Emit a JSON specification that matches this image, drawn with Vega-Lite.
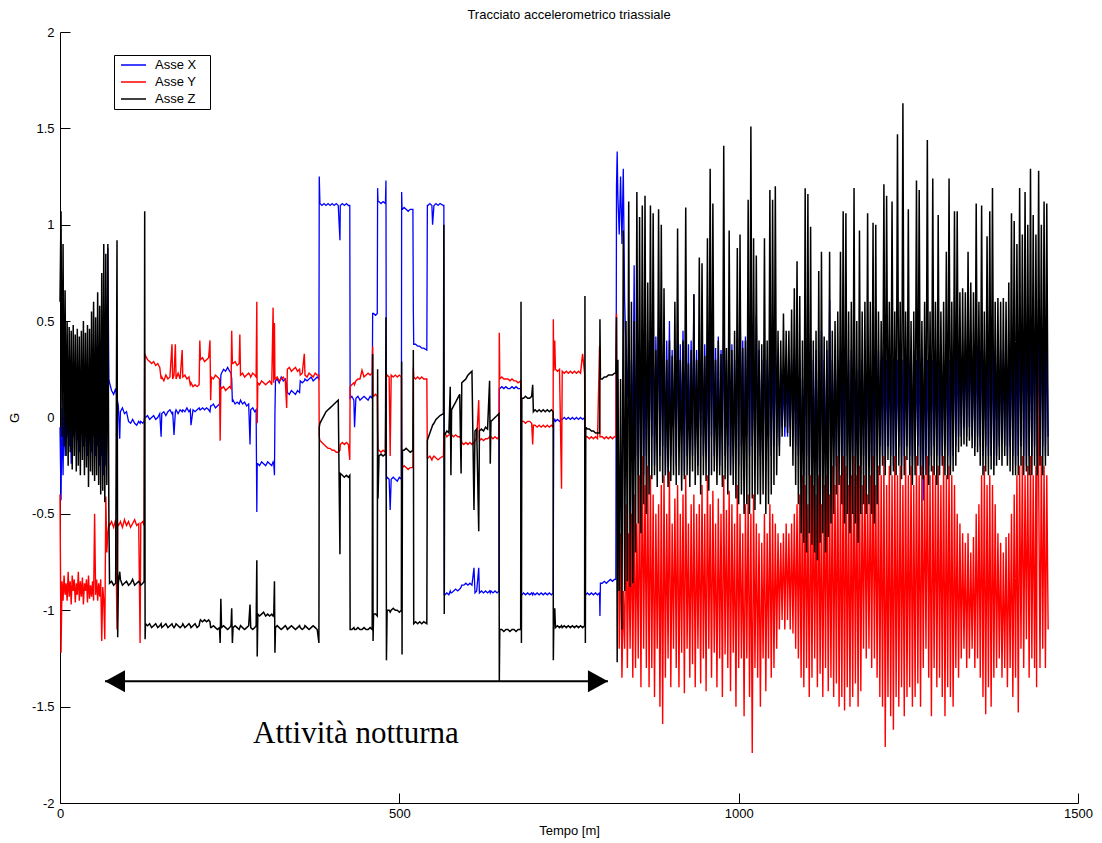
{
  "$schema": "https://vega.github.io/schema/vega-lite/v6.json",
  "width": 1018,
  "height": 771,
  "autosize": {"type": "none"},
  "padding": {"left": 60, "top": 32, "right": 24, "bottom": 40},
  "background": "white",
  "title": {"text": "Tracciato accelerometrico triassiale", "font": "Liberation Sans", "fontSize": 13, "fontWeight": "normal", "color": "black", "anchor": "middle", "offset": 4},
  "config": {"view": {"stroke": null}},
  "layer": [
    {
      "data": {"values": [
        {"t":0,"X":-0.05,"Y":-0.4,"Z":0.6},{"t":1.5,"X":-0.43,"Y":-1.22,"Z":1.07},{"t":3,"X":0.05,"Y":-0.85,"Z":-0.1},{"t":4.5,"X":-0.3,"Y":-0.95,"Z":0.9},
        {"t":6,"X":0.1,"Y":-0.82,"Z":-0.15},{"t":7.5,"X":-0.2,"Y":-0.92,"Z":0.66},{"t":9,"X":0.08,"Y":-0.86,"Z":-0.2},{"t":10.5,"X":-0.1,"Y":-0.95,"Z":0.5},
        {"t":12,"X":0.12,"Y":-0.8,"Z":-0.25},{"t":13.5,"X":-0.15,"Y":-0.93,"Z":0.47},{"t":15,"X":0.05,"Y":-0.85,"Z":-0.18},{"t":16.5,"X":-0.24,"Y":-0.97,"Z":0.45},
        {"t":18,"X":0.1,"Y":-0.82,"Z":-0.27},{"t":19.5,"X":-0.1,"Y":-0.9,"Z":0.48},{"t":21,"X":0.15,"Y":-0.84,"Z":-0.2},{"t":22.5,"X":-0.05,"Y":-0.96,"Z":0.43},
        {"t":24,"X":0.12,"Y":-0.86,"Z":-0.28},{"t":25.5,"X":-0.12,"Y":-0.92,"Z":0.46},{"t":27,"X":0.08,"Y":-0.8,"Z":-0.25},{"t":28.5,"X":-0.18,"Y":-0.95,"Z":0.42},
        {"t":30,"X":0.1,"Y":-0.85,"Z":-0.3},{"t":31.5,"X":-0.08,"Y":-0.93,"Z":0.45},{"t":33,"X":0.14,"Y":-0.83,"Z":-0.22},{"t":34.5,"X":-0.15,"Y":-0.97,"Z":0.5},
        {"t":36,"X":0.05,"Y":-0.86,"Z":-0.3},{"t":37.5,"X":-0.1,"Y":-0.9,"Z":0.44},{"t":39,"X":0.12,"Y":-0.84,"Z":-0.26},{"t":40.5,"X":-0.2,"Y":-0.96,"Z":0.48},
        {"t":42,"X":0.08,"Y":-0.82,"Z":-0.36},{"t":43.5,"X":-0.12,"Y":-0.94,"Z":0.46},{"t":45,"X":0.1,"Y":-0.87,"Z":-0.28},{"t":46.5,"X":-0.18,"Y":-0.93,"Z":0.55},
        {"t":48,"X":0.06,"Y":-0.85,"Z":-0.3},{"t":49.5,"X":-0.1,"Y":-0.95,"Z":0.6},{"t":51,"X":0.12,"Y":-0.5,"Z":-0.33},{"t":52.5,"X":-0.2,"Y":-0.92,"Z":0.52},
        {"t":54,"X":0.05,"Y":-0.84,"Z":-0.3},{"t":55.5,"X":-0.15,"Y":-0.95,"Z":0.65},{"t":57,"X":0.1,"Y":-0.86,"Z":-0.35},{"t":58.5,"X":-0.25,"Y":-0.93,"Z":0.58},
        {"t":60,"X":0.08,"Y":-0.84,"Z":-0.4},{"t":61.5,"X":-0.2,"Y":-1.16,"Z":0.75},{"t":63,"X":0.1,"Y":-0.88,"Z":-0.38},{"t":64.5,"X":-0.3,"Y":-0.95,"Z":0.9},
        {"t":66,"X":0.05,"Y":-1.15,"Z":-0.44},{"t":67.5,"X":-0.25,"Y":-0.41,"Z":0.85},{"t":69,"X":0.0,"Y":-0.7,"Z":-0.35},{"t":70.5,"X":0.88,"Y":-0.6,"Z":0.9},
        {"t":72,"X":0.2,"Y":-0.55,"Z":-0.5},{"t":73,"X":0.18,"Y":-0.56,"Z":-0.86},{"t":76,"X":0.14,"Y":-0.54,"Z":-0.85},{"t":79,"X":0.12,"Y":-0.57,"Z":-0.87},
        {"t":82,"X":0.15,"Y":-0.53,"Z":-0.86},{"t":84,"X":0.1,"Y":-1.1,"Z":0.92},{"t":85,"X":0.08,"Y":-0.55,"Z":-1.14},{"t":86,"X":0.06,"Y":-0.56,"Z":-0.86},
        {"t":88,"X":-0.11,"Y":-0.55,"Z":-0.8},{"t":89,"X":0.03,"Y":-0.54,"Z":-0.84},{"t":92,"X":0.05,"Y":-0.57,"Z":-0.87},{"t":95,"X":0.02,"Y":-0.53,"Z":-0.86},
        {"t":98,"X":0.03,"Y":-0.56,"Z":-0.85},{"t":101,"X":-0.02,"Y":-0.54,"Z":-0.87},{"t":104,"X":-0.03,"Y":-0.57,"Z":-0.86},{"t":107,"X":-0.01,"Y":-0.55,"Z":-0.84},
        {"t":110,"X":-0.03,"Y":-0.53,"Z":-0.87},{"t":113,"X":-0.04,"Y":-0.56,"Z":-0.86},{"t":116,"X":-0.02,"Y":-0.55,"Z":-0.85},{"t":118,"X":-0.03,"Y":-1.17,"Z":-0.86},
        {"t":119,"X":-0.02,"Y":-0.55,"Z":-0.87},{"t":122,"X":-0.03,"Y":-0.54,"Z":-0.86},{"t":124,"X":-0.02,"Y":-0.56,"Z":-0.85},{"t":124.8,"X":0.0,"Y":0.3,"Z":1.07},
        {"t":125.4,"X":0.0,"Y":0.33,"Z":-1.15},
        {"t":126,"X":0.0,"Y":0.32,"Z":-1.07},{"t":129,"X":0.01,"Y":0.3,"Z":-1.08},{"t":132,"X":-0.01,"Y":0.29,"Z":-1.07},{"t":135,"X":0.0,"Y":0.28,"Z":-1.09},
        {"t":138,"X":0.01,"Y":0.29,"Z":-1.08},{"t":141,"X":-0.01,"Y":0.27,"Z":-1.07},{"t":144,"X":0.0,"Y":0.28,"Z":-1.09},{"t":147,"X":0.02,"Y":0.26,"Z":-1.08},
        {"t":149,"X":-0.1,"Y":0.2,"Z":-1.07},{"t":150,"X":0.02,"Y":0.21,"Z":-1.09},{"t":153,"X":0.03,"Y":0.19,"Z":-1.08},{"t":156,"X":0.01,"Y":0.22,"Z":-1.07},
        {"t":159,"X":0.03,"Y":0.2,"Z":-1.09},{"t":162,"X":0.04,"Y":0.21,"Z":-1.08},{"t":165,"X":0.02,"Y":0.38,"Z":-1.07},{"t":166,"X":0.03,"Y":0.2,"Z":-1.08},
        {"t":168,"X":-0.09,"Y":0.22,"Z":-1.09},{"t":170,"X":0.03,"Y":0.38,"Z":-1.08},{"t":171,"X":0.04,"Y":0.2,"Z":-1.07},{"t":174,"X":0.02,"Y":0.23,"Z":-1.08},
        {"t":177,"X":0.04,"Y":0.2,"Z":-1.09},{"t":180,"X":0.03,"Y":0.35,"Z":-1.08},{"t":181,"X":0.04,"Y":0.21,"Z":-1.07},{"t":184,"X":0.03,"Y":0.22,"Z":-1.09},
        {"t":187,"X":0.05,"Y":0.2,"Z":-1.08},{"t":190,"X":0.03,"Y":0.21,"Z":-1.07},{"t":192,"X":0.04,"Y":0.17,"Z":-1.08},{"t":193,"X":-0.04,"Y":0.18,"Z":-1.09},
        {"t":196,"X":0.04,"Y":0.16,"Z":-1.08},{"t":199,"X":0.03,"Y":0.17,"Z":-1.07},{"t":202,"X":0.04,"Y":0.16,"Z":-1.09},{"t":205,"X":0.05,"Y":0.17,"Z":-1.08},
        {"t":206,"X":0.04,"Y":0.4,"Z":-1.06},{"t":207,"X":0.04,"Y":0.3,"Z":-1.05},{"t":210,"X":0.05,"Y":0.31,"Z":-1.06},{"t":213,"X":0.04,"Y":0.29,"Z":-1.05},
        {"t":216,"X":0.05,"Y":0.3,"Z":-1.06},{"t":219,"X":0.04,"Y":0.31,"Z":-1.05},{"t":221,"X":0.03,"Y":0.4,"Z":-1.06},{"t":222,"X":0.06,"Y":0.09,"Z":-1.09},
        {"t":223,"X":0.06,"Y":0.21,"Z":-1.09},{"t":226,"X":0.07,"Y":0.2,"Z":-1.08},{"t":229,"X":0.05,"Y":0.22,"Z":-1.09},{"t":232,"X":0.06,"Y":0.21,"Z":-1.1},
        {"t":235,"X":0.07,"Y":0.2,"Z":-1.09},{"t":236,"X":0.1,"Y":-0.12,"Z":-1.17},{"t":237,"X":0.22,"Y":0.16,"Z":-0.94},{"t":238,"X":0.23,"Y":0.15,"Z":-1.09},
        {"t":241,"X":0.25,"Y":0.16,"Z":-1.08},{"t":244,"X":0.24,"Y":0.14,"Z":-1.09},{"t":247,"X":0.26,"Y":0.15,"Z":-1.1},{"t":250,"X":0.24,"Y":0.16,"Z":-1.09},
        {"t":252,"X":0.23,"Y":0.15,"Z":-1.08},{"t":253,"X":0.2,"Y":0.45,"Z":-0.99},{"t":254,"X":0.08,"Y":0.28,"Z":-1.17},{"t":255,"X":0.09,"Y":0.28,"Z":-1.09},
        {"t":258,"X":0.07,"Y":0.29,"Z":-1.08},{"t":261,"X":0.08,"Y":0.27,"Z":-1.09},{"t":264,"X":0.07,"Y":0.28,"Z":-1.1},{"t":265,"X":0.08,"Y":0.43,"Z":-1.09},
        {"t":266,"X":0.09,"Y":0.22,"Z":-1.08},{"t":269,"X":0.07,"Y":0.23,"Z":-1.09},{"t":272,"X":0.08,"Y":0.21,"Z":-1.1},{"t":275,"X":0.06,"Y":0.22,"Z":-1.09},
        {"t":278,"X":0.07,"Y":0.23,"Z":-1.08},{"t":280,"X":-0.14,"Y":0.22,"Z":-0.97},{"t":281,"X":0.04,"Y":0.21,"Z":-1.09},{"t":284,"X":0.05,"Y":0.23,"Z":-1.1},
        {"t":287,"X":0.03,"Y":0.22,"Z":-1.09},{"t":289,"X":0.04,"Y":0.21,"Z":-1.08},{"t":290,"X":-0.49,"Y":0.6,"Z":-0.74},{"t":290.6,"X":-0.24,"Y":-0.03,"Z":-1.24},
        {"t":291.5,"X":-0.24,"Y":0.18,"Z":-1.02},{"t":294,"X":-0.25,"Y":0.17,"Z":-1.03},{"t":297,"X":-0.23,"Y":0.19,"Z":-1.02},{"t":300,"X":-0.24,"Y":0.18,"Z":-1.01},
        {"t":303,"X":-0.25,"Y":0.17,"Z":-1.03},{"t":306,"X":-0.23,"Y":0.18,"Z":-1.02},{"t":309,"X":-0.24,"Y":0.19,"Z":-1.03},{"t":312,"X":-0.25,"Y":0.17,"Z":-1.02},
        {"t":314,"X":-0.23,"Y":0.57,"Z":-1.03},{"t":315,"X":-0.24,"Y":0.18,"Z":-1.02},{"t":316,"X":-0.3,"Y":0.49,"Z":-0.85},{"t":316.7,"X":0.02,"Y":0.2,"Z":-1.22},
        {"t":317.5,"X":0.19,"Y":0.2,"Z":-1.09},{"t":320,"X":0.2,"Y":0.21,"Z":-1.08},{"t":323,"X":0.18,"Y":0.19,"Z":-1.09},{"t":326,"X":0.21,"Y":0.2,"Z":-1.1},
        {"t":329,"X":0.19,"Y":0.21,"Z":-1.09},{"t":332,"X":0.2,"Y":0.19,"Z":-1.08},{"t":334,"X":0.17,"Y":0.05,"Z":-1.09},{"t":335,"X":0.13,"Y":0.25,"Z":-1.1},
        {"t":338,"X":0.12,"Y":0.26,"Z":-1.09},{"t":341,"X":0.14,"Y":0.24,"Z":-1.08},{"t":344,"X":0.13,"Y":0.25,"Z":-1.09},{"t":347,"X":0.12,"Y":0.26,"Z":-1.1},
        {"t":350,"X":0.14,"Y":0.24,"Z":-1.09},{"t":353,"X":0.13,"Y":0.25,"Z":-1.08},{"t":354,"X":0.19,"Y":0.22,"Z":-1.09},{"t":357,"X":0.18,"Y":0.23,"Z":-1.1},
        {"t":360,"X":0.19,"Y":0.33,"Z":-1.09},{"t":361,"X":0.2,"Y":0.22,"Z":-1.08},{"t":364,"X":0.19,"Y":0.21,"Z":-1.09},{"t":367,"X":0.2,"Y":0.23,"Z":-1.1},
        {"t":370,"X":0.21,"Y":0.22,"Z":-1.09},{"t":373,"X":0.19,"Y":0.21,"Z":-1.08},{"t":376,"X":0.2,"Y":0.23,"Z":-1.09},{"t":379,"X":0.21,"Y":0.22,"Z":-1.1},
        {"t":381.5,"X":0.2,"Y":0.22,"Z":-1.17},
        {"t":382,"X":1.25,"Y":-0.1,"Z":-0.05},{"t":383,"X":1.11,"Y":-0.12,"Z":-0.03},{"t":386,"X":1.1,"Y":-0.13,"Z":-0.01},{"t":389,"X":1.11,"Y":-0.14,"Z":0.01},
        {"t":392,"X":1.1,"Y":-0.15,"Z":0.03},{"t":395,"X":1.11,"Y":-0.16,"Z":0.04},{"t":398,"X":1.1,"Y":-0.16,"Z":0.05},{"t":401,"X":1.11,"Y":-0.17,"Z":0.06},
        {"t":404,"X":1.1,"Y":-0.17,"Z":0.07},{"t":407,"X":1.11,"Y":-0.18,"Z":0.08},{"t":410,"X":1.1,"Y":-0.18,"Z":0.09},{"t":412.5,"X":0.92,"Y":-0.17,"Z":-0.71},
        {"t":413,"X":1.1,"Y":-0.14,"Z":-0.29},{"t":416,"X":1.11,"Y":-0.13,"Z":-0.3},{"t":419,"X":1.1,"Y":-0.14,"Z":-0.31},{"t":422,"X":1.11,"Y":-0.13,"Z":-0.3},
        {"t":425,"X":1.1,"Y":-0.14,"Z":-0.31},{"t":427,"X":1.1,"Y":-0.22,"Z":-0.3},{"t":427.5,"X":0.1,"Y":0.16,"Z":-1.1},{"t":430,"X":0.11,"Y":0.17,"Z":-1.1},
        {"t":433,"X":0.09,"Y":0.18,"Z":-1.09},{"t":434,"X":-0.05,"Y":0.17,"Z":-1.1},{"t":436,"X":0.1,"Y":0.19,"Z":-1.1},{"t":439,"X":0.11,"Y":0.2,"Z":-1.09},
        {"t":442,"X":0.09,"Y":0.2,"Z":-1.1},{"t":445,"X":0.1,"Y":0.245,"Z":-1.1},{"t":448,"X":0.11,"Y":0.21,"Z":-1.09},{"t":451,"X":0.1,"Y":0.22,"Z":-1.1},
        {"t":454,"X":0.09,"Y":0.23,"Z":-1.1},{"t":457,"X":0.11,"Y":0.22,"Z":-1.09},{"t":460,"X":0.1,"Y":0.23,"Z":-1.1},{"t":460.7,"X":0.54,"Y":0.37,"Z":0.33},
        {"t":461.3,"X":0.54,"Y":0.11,"Z":-1.16},{"t":462,"X":0.54,"Y":0.11,"Z":-1.02},{"t":465,"X":0.53,"Y":0.12,"Z":-1.02},{"t":467.5,"X":0.54,"Y":0.11,"Z":-1.03},
        {"t":468,"X":1.19,"Y":-0.08,"Z":0.25},{"t":468.6,"X":1.12,"Y":-0.17,"Z":-0.42},{"t":470,"X":1.12,"Y":-0.17,"Z":-0.2},{"t":473,"X":1.11,"Y":-0.18,"Z":-0.19},
        {"t":476,"X":1.12,"Y":-0.17,"Z":-0.2},{"t":479.5,"X":1.11,"Y":-0.18,"Z":-0.19},{"t":480.3,"X":1.23,"Y":0.21,"Z":0.52},{"t":481,"X":-0.32,"Y":0.21,"Z":-1.26},
        {"t":482,"X":-0.31,"Y":0.22,"Z":-1.0},{"t":485,"X":-0.32,"Y":0.21,"Z":-1.0},{"t":486.5,"X":-0.48,"Y":-0.2,"Z":-1.01},{"t":488,"X":-0.32,"Y":0.22,"Z":-1.0},
        {"t":491,"X":-0.31,"Y":0.21,"Z":-0.99},{"t":494,"X":-0.32,"Y":0.22,"Z":-1.0},{"t":497,"X":-0.33,"Y":0.21,"Z":-1.0},{"t":500,"X":-0.31,"Y":0.22,"Z":-1.01},
        {"t":503,"X":-0.32,"Y":0.21,"Z":-1.0},{"t":503.4,"X":1.17,"Y":-0.26,"Z":0.29},{"t":504,"X":1.08,"Y":-0.26,"Z":-1.23},{"t":504.6,"X":1.08,"Y":-0.26,"Z":-0.17},
        {"t":507,"X":1.09,"Y":-0.25,"Z":-0.17},{"t":510,"X":1.08,"Y":-0.26,"Z":-0.16},{"t":513,"X":1.07,"Y":-0.27,"Z":-0.17},{"t":516,"X":1.08,"Y":-0.26,"Z":-0.18},
        {"t":520,"X":1.08,"Y":-0.26,"Z":-0.17},{"t":520.6,"X":0.57,"Y":0.26,"Z":0.35},{"t":521.2,"X":0.38,"Y":0.21,"Z":-1.07},{"t":524,"X":0.38,"Y":0.2,"Z":-1.06},
        {"t":527,"X":0.37,"Y":0.21,"Z":-1.07},{"t":530,"X":0.37,"Y":0.2,"Z":-1.06},{"t":533,"X":0.36,"Y":0.21,"Z":-1.07},{"t":536,"X":0.36,"Y":0.2,"Z":-1.06},
        {"t":540.5,"X":0.35,"Y":0.2,"Z":-1.07},{"t":541.3,"X":1.1,"Y":-0.21,"Z":-0.12},{"t":542,"X":1.1,"Y":-0.21,"Z":-0.11},{"t":545,"X":1.11,"Y":-0.2,"Z":-0.08},
        {"t":548,"X":1.1,"Y":-0.22,"Z":-0.05},{"t":549,"X":1.0,"Y":-0.21,"Z":-0.04},{"t":551,"X":1.1,"Y":-0.2,"Z":-0.03},{"t":554,"X":1.11,"Y":-0.21,"Z":-0.01},
        {"t":557,"X":1.1,"Y":-0.22,"Z":0.0},{"t":560,"X":1.11,"Y":-0.21,"Z":0.01},{"t":565,"X":1.1,"Y":-0.2,"Z":0.02},{"t":565.6,"X":1.1,"Y":-0.08,"Z":1.0},
        {"t":566.2,"X":-0.92,"Y":-0.09,"Z":-1.02},{"t":566.8,"X":-0.92,"Y":-0.08,"Z":-0.08},
        {"t":567,"X":-0.92,"Y":-0.08,"Z":-0.09},{"t":570,"X":-0.91,"Y":-0.1,"Z":-0.07},{"t":573,"X":-0.92,"Y":-0.09,"Z":-0.08},{"t":575,"X":-0.9,"Y":-0.09,"Z":0.16},
        {"t":576,"X":-0.91,"Y":-0.1,"Z":-0.3},{"t":577,"X":-0.91,"Y":-0.09,"Z":0.04},{"t":580,"X":-0.9,"Y":-0.1,"Z":0.06},{"t":583,"X":-0.89,"Y":-0.09,"Z":0.08},
        {"t":586,"X":-0.9,"Y":-0.1,"Z":0.1},{"t":589,"X":-0.89,"Y":-0.1,"Z":0.12},{"t":591,"X":-0.88,"Y":-0.11,"Z":-0.29},{"t":592,"X":-0.87,"Y":-0.13,"Z":0.18},
        {"t":595,"X":-0.87,"Y":-0.14,"Z":0.19},{"t":598,"X":-0.86,"Y":-0.13,"Z":0.2},{"t":601,"X":-0.87,"Y":-0.14,"Z":0.22},{"t":604,"X":-0.86,"Y":-0.13,"Z":0.23},
        {"t":607,"X":-0.87,"Y":-0.14,"Z":0.24},{"t":610,"X":-0.78,"Y":-0.13,"Z":-0.48},{"t":611.5,"X":-0.91,"Y":-0.12,"Z":-0.07},{"t":614,"X":-0.9,"Y":-0.11,"Z":-0.06},
        {"t":617,"X":-0.78,"Y":0.09,"Z":-0.59},{"t":618,"X":-0.91,"Y":-0.12,"Z":-0.07},{"t":621,"X":-0.9,"Y":-0.11,"Z":-0.06},{"t":624,"X":-0.91,"Y":-0.12,"Z":-0.07},
        {"t":627,"X":-0.9,"Y":-0.11,"Z":-0.05},{"t":630,"X":-0.91,"Y":-0.11,"Z":-0.06},{"t":633,"X":-0.9,"Y":-0.1,"Z":0.19},{"t":634,"X":-0.91,"Y":-0.11,"Z":-0.24},
        {"t":635,"X":-0.9,"Y":-0.1,"Z":-0.02},{"t":638,"X":-0.91,"Y":-0.11,"Z":-0.01},{"t":641,"X":-0.9,"Y":-0.1,"Z":0.0},{"t":644,"X":-0.91,"Y":-0.11,"Z":0.01},
        {"t":646.8,"X":-0.9,"Y":-0.1,"Z":0.02},{"t":647.3,"X":0.15,"Y":0.44,"Z":-1.37},{"t":648,"X":0.15,"Y":0.2,"Z":-1.1},{"t":651,"X":0.16,"Y":0.21,"Z":-1.1},
        {"t":654,"X":0.15,"Y":0.2,"Z":-1.11},{"t":657,"X":0.16,"Y":0.2,"Z":-1.1},{"t":660,"X":0.15,"Y":0.2,"Z":-1.1},{"t":663,"X":0.15,"Y":0.19,"Z":-1.11},
        {"t":666,"X":0.16,"Y":0.2,"Z":-1.1},{"t":669,"X":0.15,"Y":0.19,"Z":-1.1},{"t":672,"X":0.16,"Y":0.19,"Z":-1.11},{"t":675,"X":0.15,"Y":0.18,"Z":-1.1},
        {"t":678.8,"X":0.15,"Y":0.19,"Z":-1.1},{"t":679.3,"X":-0.92,"Y":-0.02,"Z":0.6},{"t":679.9,"X":-0.92,"Y":-0.02,"Z":-1.17},{"t":680.5,"X":-0.92,"Y":-0.02,"Z":0.1},
        {"t":683,"X":-0.91,"Y":-0.02,"Z":0.1},{"t":686,"X":-0.92,"Y":-0.03,"Z":0.11},{"t":689,"X":-0.91,"Y":-0.02,"Z":0.1},{"t":692,"X":-0.92,"Y":-0.02,"Z":0.1},
        {"t":695,"X":-0.91,"Y":-0.03,"Z":0.11},{"t":696.5,"X":-0.92,"Y":-0.14,"Z":0.17},{"t":697.5,"X":-0.91,"Y":-0.04,"Z":0.03},{"t":700,"X":-0.92,"Y":-0.04,"Z":0.04},
        {"t":703,"X":-0.91,"Y":-0.05,"Z":0.03},{"t":706,"X":-0.92,"Y":-0.04,"Z":0.04},{"t":709,"X":-0.91,"Y":-0.05,"Z":0.03},{"t":712,"X":-0.92,"Y":-0.04,"Z":0.04},
        {"t":715,"X":-0.91,"Y":-0.05,"Z":0.03},{"t":718,"X":-0.92,"Y":-0.04,"Z":0.04},{"t":721,"X":-0.91,"Y":-0.05,"Z":0.03},{"t":724,"X":-0.92,"Y":-0.04,"Z":0.04},
        {"t":726.6,"X":-0.91,"Y":-0.05,"Z":0.03},{"t":726.9,"X":-0.67,"Y":0.51,"Z":-1.26},{"t":727.5,"X":-0.02,"Y":0.24,"Z":-1.08},{"t":729,"X":-0.01,"Y":0.4,"Z":-0.99},
        {"t":730,"X":-0.02,"Y":0.25,"Z":-1.09},{"t":733,"X":-0.01,"Y":0.24,"Z":-1.08},{"t":736,"X":-0.02,"Y":0.25,"Z":-1.09},{"t":739,"X":-0.01,"Y":-0.37,"Z":-1.08},
        {"t":740,"X":-0.01,"Y":0.24,"Z":-1.09},{"t":743,"X":0.0,"Y":0.23,"Z":-1.08},{"t":746,"X":-0.01,"Y":0.24,"Z":-1.09},{"t":749,"X":0.0,"Y":0.23,"Z":-1.08},
        {"t":752,"X":-0.01,"Y":0.24,"Z":-1.09},{"t":755,"X":0.0,"Y":0.23,"Z":-1.08},{"t":758,"X":-0.01,"Y":0.24,"Z":-1.09},{"t":761,"X":0.0,"Y":0.23,"Z":-1.08},
        {"t":764,"X":-0.01,"Y":0.24,"Z":-1.09},{"t":767,"X":0.0,"Y":0.23,"Z":-1.08},{"t":770,"X":-0.01,"Y":0.33,"Z":-1.09},{"t":773,"X":0.0,"Y":0.23,"Z":-1.08},
        {"t":773.5,"X":-0.92,"Y":-0.1,"Z":0.63},{"t":774.1,"X":-0.92,"Y":-0.1,"Z":-1.17},{"t":774.7,"X":-0.92,"Y":-0.1,"Z":-0.05},{"t":777,"X":-0.91,"Y":-0.1,"Z":-0.06},
        {"t":780,"X":-0.92,"Y":-0.11,"Z":-0.06},{"t":783,"X":-0.91,"Y":-0.1,"Z":-0.07},{"t":786,"X":-0.92,"Y":-0.11,"Z":-0.07},{"t":789,"X":-0.91,"Y":-0.1,"Z":-0.08},
        {"t":792,"X":-0.92,"Y":-0.11,"Z":-0.08},{"t":795,"X":-0.91,"Y":0.37,"Z":-0.08},{"t":795.6,"X":-1.03,"Y":-0.1,"Z":0.51},{"t":796.3,"X":-0.86,"Y":-0.1,"Z":0.2},
        {"t":799,"X":-0.86,"Y":-0.1,"Z":0.2},{"t":802,"X":-0.85,"Y":-0.11,"Z":0.21},{"t":805,"X":-0.86,"Y":-0.1,"Z":0.21},{"t":808,"X":-0.85,"Y":-0.11,"Z":0.22},
        {"t":811,"X":-0.84,"Y":-0.1,"Z":0.22},{"t":814,"X":-0.85,"Y":-0.11,"Z":0.22},{"t":817,"X":-0.84,"Y":-0.1,"Z":0.23},{"t":819,"X":-0.84,"Y":-0.1,"Z":0.23},
        {"t":820,"X":1.2,"Y":0.54,"Z":0.52},{"t":821,"X":1.38,"Y":-0.4,"Z":-1.27},{"t":822,"X":1.15,"Y":0.2,"Z":0.3},{"t":824,"X":0.95,"Y":-1.2,"Z":-0.9},
        {"t":826,"X":1.25,"Y":-0.6,"Z":0.2},{"t":828,"X":0.9,"Y":-1.35,"Z":-1.1},{"t":830,"X":1.29,"Y":-0.9,"Z":0.97},{"t":832,"X":0.6,"Y":-1.2,"Z":-0.9},
        {"t":834,"X":0.35,"Y":-0.45,"Z":0.5},{"t":836,"X":0.1,"Y":-1.3,"Z":-0.85},{"t":838,"X":0.4,"Y":-0.6,"Z":1.12},{"t":840,"X":-0.2,"Y":-1.2,"Z":-0.88},
        {"t":842,"X":0.3,"Y":-0.5,"Z":0.6},{"t":844,"X":-0.1,"Y":-1.35,"Z":-0.86},{"t":846,"X":0.79,"Y":-0.4,"Z":0.5},{"t":848,"X":-0.2,"Y":-1.3,"Z":-0.7},
        {"t":850,"X":0.4,"Y":-0.55,"Z":1.17},{"t":852,"X":-0.3,"Y":-1.25,"Z":-0.55},{"t":854,"X":0.3,"Y":-0.3,"Z":1.04},{"t":856,"X":-0.15,"Y":-1.4,"Z":-0.6},
        {"t":858,"X":0.35,"Y":-0.2,"Z":1.1},{"t":860,"X":-0.3,"Y":-1.2,"Z":-0.45},{"t":862,"X":0.25,"Y":-0.35,"Z":1.15},{"t":864,"X":-0.2,"Y":-1.3,"Z":-0.5},
        {"t":866,"X":0.4,"Y":-0.25,"Z":0.7},{"t":868,"X":-0.25,"Y":-1.4,"Z":-0.4},
        {"t":870,"X":0.5,"Y":-0.3,"Z":1.1},{"t":872,"X":-0.1,"Y":-1.3,"Z":-0.32},{"t":874,"X":0.45,"Y":-0.4,"Z":1.06},{"t":876,"X":-0.25,"Y":-1.45,"Z":-0.3},
        {"t":878,"X":0.42,"Y":-0.5,"Z":0.35},{"t":880,"X":-0.05,"Y":-1.2,"Z":-0.36},{"t":882,"X":0.5,"Y":-0.45,"Z":1.08},{"t":884,"X":-0.2,"Y":-1.5,"Z":-0.28},
        {"t":886,"X":0.3,"Y":-0.35,"Z":1.0},{"t":888,"X":-0.15,"Y":-1.59,"Z":-0.34},{"t":890,"X":0.45,"Y":-0.3,"Z":0.67},{"t":892,"X":-0.3,"Y":-1.35,"Z":-0.3},
        {"t":894,"X":0.4,"Y":-0.5,"Z":0.3},{"t":896,"X":-0.1,"Y":-1.25,"Z":-0.36},{"t":898,"X":0.5,"Y":-0.28,"Z":0.4},{"t":900,"X":-0.2,"Y":-1.4,"Z":-0.33},
        {"t":902,"X":0.35,"Y":-0.55,"Z":0.32},{"t":904,"X":-0.05,"Y":-1.2,"Z":-0.3},{"t":906,"X":0.25,"Y":-0.42,"Z":0.6},{"t":908,"X":-0.25,"Y":-1.3,"Z":-0.35},
        {"t":910,"X":0.4,"Y":-0.35,"Z":0.98},{"t":912,"X":-0.15,"Y":-1.4,"Z":-0.3},{"t":914,"X":0.38,"Y":-0.5,"Z":0.3},{"t":916,"X":-0.1,"Y":-1.22,"Z":-0.38},
        {"t":918,"X":0.45,"Y":-0.4,"Z":0.4},{"t":920,"X":-0.3,"Y":-1.43,"Z":-0.32},{"t":922,"X":0.3,"Y":-0.3,"Z":1.09},{"t":924,"X":-0.2,"Y":-1.2,"Z":-0.3},
        {"t":926,"X":0.38,"Y":-0.55,"Z":0.28},{"t":928,"X":-0.1,"Y":-1.35,"Z":-0.36},{"t":930,"X":0.4,"Y":-0.45,"Z":0.35},{"t":932,"X":-0.2,"Y":-1.28,"Z":-0.28},
        {"t":934,"X":0.64,"Y":-0.4,"Z":0.64},{"t":936,"X":-0.15,"Y":-1.4,"Z":-0.35},{"t":938,"X":0.35,"Y":-0.5,"Z":0.3},{"t":940,"X":-0.25,"Y":-1.2,"Z":-0.3},
        {"t":942,"X":0.3,"Y":-0.45,"Z":0.83},{"t":944,"X":-0.1,"Y":-1.38,"Z":-0.4},{"t":946,"X":0.42,"Y":-0.35,"Z":0.8},{"t":948,"X":-0.2,"Y":-1.25,"Z":-0.3},
        {"t":950,"X":0.38,"Y":-0.5,"Z":0.32},{"t":952,"X":-0.15,"Y":-1.42,"Z":-0.33},{"t":954,"X":0.3,"Y":-0.3,"Z":0.93},{"t":956,"X":-0.3,"Y":-1.2,"Z":-0.38},
        {"t":958,"X":0.45,"Y":-0.45,"Z":1.29},{"t":960,"X":-0.1,"Y":-1.35,"Z":-0.3},{"t":962,"X":0.4,"Y":-0.38,"Z":1.11},{"t":964,"X":-0.2,"Y":-1.22,"Z":-0.28},
        {"t":966,"X":0.36,"Y":-0.55,"Z":0.3},{"t":968,"X":-0.15,"Y":-1.4,"Z":-0.35},{"t":970,"X":0.42,"Y":-0.42,"Z":0.4},{"t":972,"X":-0.25,"Y":-1.25,"Z":-0.3},
        {"t":974,"X":0.35,"Y":-0.5,"Z":0.33},{"t":976,"X":-0.1,"Y":-1.45,"Z":-0.36},{"t":978,"X":0.45,"Y":-0.3,"Z":1.41},{"t":980,"X":-0.2,"Y":-1.23,"Z":-0.32},
        {"t":982,"X":0.3,"Y":-0.48,"Z":0.36},{"t":984,"X":-0.15,"Y":-1.3,"Z":-0.4},{"t":986,"X":0.4,"Y":-0.38,"Z":0.97},{"t":988,"X":-0.3,"Y":-1.42,"Z":-0.3},
        {"t":990,"X":0.38,"Y":-0.45,"Z":0.35},{"t":992,"X":-0.2,"Y":-1.22,"Z":-0.35},{"t":994,"X":0.3,"Y":-0.55,"Z":0.45},{"t":996,"X":-0.1,"Y":-1.5,"Z":-0.42},
        {"t":998,"X":0.4,"Y":-0.35,"Z":0.88},{"t":1000,"X":-0.25,"Y":-1.3,"Z":-0.45},{"t":1002,"X":0.71,"Y":-0.5,"Z":0.95},{"t":1004,"X":-0.15,"Y":-1.25,"Z":-0.4},
        {"t":1006,"X":0.4,"Y":-0.6,"Z":0.36},{"t":1008,"X":-0.2,"Y":-1.55,"Z":-0.5},{"t":1010,"X":0.42,"Y":-0.45,"Z":0.4},{"t":1012,"X":-0.1,"Y":-1.25,"Z":-0.45},
        {"t":1014,"X":0.35,"Y":-0.4,"Z":1.13},{"t":1016,"X":-0.2,"Y":-1.45,"Z":-0.5},{"t":1018,"X":0.45,"Y":-0.5,"Z":1.51},{"t":1020,"X":-0.15,"Y":-1.74,"Z":-0.42},
        {"t":1022,"X":0.3,"Y":-0.4,"Z":0.93},{"t":1024,"X":-0.25,"Y":-1.3,"Z":-0.48},{"t":1026,"X":0.53,"Y":-0.55,"Z":0.84},{"t":1028,"X":-0.1,"Y":-1.35,"Z":-0.4},
        {"t":1030,"X":0.35,"Y":-0.6,"Z":0.4},{"t":1032,"X":-0.2,"Y":-1.5,"Z":-0.45},{"t":1034,"X":0.3,"Y":-0.65,"Z":0.38},{"t":1036,"X":-0.15,"Y":-1.25,"Z":-0.4},
        {"t":1038,"X":0.4,"Y":-0.5,"Z":0.93},{"t":1040,"X":-0.2,"Y":-1.42,"Z":-0.5},{"t":1042,"X":0.3,"Y":-0.6,"Z":0.4},{"t":1044,"X":-0.1,"Y":-1.25,"Z":-0.45},
        {"t":1046,"X":0.35,"Y":-0.45,"Z":1.18},{"t":1048,"X":-0.2,"Y":-1.35,"Z":-0.4},{"t":1050,"X":0.3,"Y":-0.5,"Z":1.13},{"t":1052,"X":-0.15,"Y":-1.3,"Z":-0.35},
        {"t":1054,"X":0.35,"Y":-0.55,"Z":1.2},{"t":1056,"X":-0.1,"Y":-1.2,"Z":-0.3},{"t":1058,"X":0.3,"Y":-0.6,"Z":0.45},{"t":1060,"X":-0.15,"Y":-1.1,"Z":-0.2},
        {"t":1062,"X":0.25,"Y":-0.65,"Z":0.4},{"t":1064,"X":-0.05,"Y":-1.05,"Z":-0.1},{"t":1066,"X":0.2,"Y":-0.6,"Z":0.54},{"t":1068,"X":-0.1,"Y":-1.1,"Z":-0.05},
        {"t":1070,"X":0.25,"Y":-0.55,"Z":0.45},{"t":1072,"X":-0.1,"Y":-1.05,"Z":-0.08},{"t":1074,"X":0.2,"Y":-0.6,"Z":0.45},{"t":1076,"X":-0.05,"Y":-1.1,"Z":-0.15},
        {"t":1078,"X":0.3,"Y":-0.55,"Z":0.56},{"t":1080,"X":-0.1,"Y":-1.12,"Z":-0.25},{"t":1082,"X":0.25,"Y":-0.5,"Z":0.67},{"t":1084,"X":-0.15,"Y":-1.2,"Z":-0.35},
        {"t":1086,"X":0.3,"Y":-0.45,"Z":0.81},{"t":1088,"X":-0.2,"Y":-1.25,"Z":-0.45},{"t":1090,"X":0.3,"Y":-0.4,"Z":0.63},{"t":1092,"X":-0.25,"Y":-1.35,"Z":-0.6},
        {"t":1094,"X":0.2,"Y":-0.3,"Z":0.4},{"t":1096,"X":-0.3,"Y":-1.4,"Z":-0.65},{"t":1098,"X":0.35,"Y":-0.35,"Z":1.19},{"t":1100,"X":-0.2,"Y":-1.3,"Z":-0.7},
        {"t":1102,"X":0.76,"Y":-0.45,"Z":1.16},{"t":1104,"X":-0.3,"Y":-1.45,"Z":-0.6},{"t":1106,"X":0.4,"Y":-0.3,"Z":0.99},{"t":1108,"X":-0.25,"Y":-1.35,"Z":-0.66},
        {"t":1110,"X":0.3,"Y":-0.35,"Z":0.4},{"t":1112,"X":-0.2,"Y":-1.25,"Z":-0.7},{"t":1114,"X":0.35,"Y":-0.4,"Z":0.45},{"t":1116,"X":-0.3,"Y":-1.4,"Z":-0.74},
        {"t":1118,"X":0.3,"Y":-0.3,"Z":0.76},{"t":1120,"X":-0.25,"Y":-1.33,"Z":-0.65},{"t":1122,"X":0.45,"Y":-0.45,"Z":0.86},{"t":1124,"X":-0.2,"Y":-1.45,"Z":-0.6},
        {"t":1126,"X":0.3,"Y":-0.35,"Z":0.42},{"t":1128,"X":-0.25,"Y":-1.3,"Z":-0.7},{"t":1130,"X":0.35,"Y":-0.3,"Z":0.4},{"t":1132,"X":-0.3,"Y":-1.42,"Z":-0.62},
        {"t":1134,"X":0.61,"Y":-0.4,"Z":0.86},{"t":1136,"X":-0.2,"Y":-1.35,"Z":-0.55},{"t":1138,"X":0.3,"Y":-0.25,"Z":0.45},{"t":1140,"X":-0.15,"Y":-1.45,"Z":-0.5},
        {"t":1142,"X":0.35,"Y":-0.35,"Z":0.5},{"t":1144,"X":-0.25,"Y":-1.38,"Z":-0.4},{"t":1146,"X":0.3,"Y":-0.2,"Z":0.55},{"t":1148,"X":-0.2,"Y":-1.5,"Z":-0.35},
        {"t":1150,"X":0.35,"Y":-0.3,"Z":0.86},{"t":1152,"X":-0.3,"Y":-1.45,"Z":-0.45},{"t":1154,"X":0.3,"Y":-0.2,"Z":1.07},{"t":1156,"X":-0.25,"Y":-1.52,"Z":-0.55},
        {"t":1158,"X":0.4,"Y":-0.25,"Z":1.06},{"t":1160,"X":-0.2,"Y":-1.4,"Z":-0.5},{"t":1162,"X":0.3,"Y":-0.35,"Z":0.55},{"t":1164,"X":-0.3,"Y":-1.5,"Z":-0.6},
        {"t":1166,"X":0.35,"Y":-0.3,"Z":0.6},{"t":1168,"X":-0.25,"Y":-1.45,"Z":-0.5},{"t":1170,"X":0.3,"Y":-0.2,"Z":1.19},{"t":1172,"X":-0.2,"Y":-1.38,"Z":-0.55},
        {"t":1174,"X":0.25,"Y":-0.3,"Z":0.5},{"t":1176,"X":-0.35,"Y":-1.5,"Z":-0.65},{"t":1178,"X":0.3,"Y":-0.25,"Z":0.97},{"t":1180,"X":-0.25,"Y":-1.42,"Z":-0.5},
        {"t":1182,"X":0.3,"Y":-0.35,"Z":0.55},{"t":1184,"X":-0.2,"Y":-1.2,"Z":-0.45},{"t":1186,"X":0.35,"Y":-0.3,"Z":0.6},{"t":1188,"X":-0.3,"Y":-1.25,"Z":-0.5},
        {"t":1190,"X":0.3,"Y":-0.4,"Z":1.06},{"t":1192,"X":-0.2,"Y":-1.2,"Z":-0.45},{"t":1194,"X":0.25,"Y":-0.3,"Z":0.6},{"t":1196,"X":-0.3,"Y":-1.3,"Z":-0.5},
        {"t":1198,"X":0.35,"Y":-0.2,"Z":1.01},{"t":1200,"X":-0.25,"Y":-1.25,"Z":-0.55},{"t":1202,"X":0.3,"Y":-0.35,"Z":1.0},{"t":1204,"X":-0.2,"Y":-1.35,"Z":-0.45},
        {"t":1206,"X":0.35,"Y":-0.25,"Z":0.55},{"t":1208,"X":-0.15,"Y":-1.45,"Z":-0.3},{"t":1210,"X":0.3,"Y":-0.3,"Z":0.5},{"t":1212,"X":-0.2,"Y":-1.5,"Z":-0.25},
        {"t":1214,"X":0.35,"Y":-0.2,"Z":1.21},{"t":1216,"X":-0.25,"Y":-1.71,"Z":-0.3},{"t":1218,"X":0.3,"Y":-0.35,"Z":1.15},{"t":1220,"X":-0.15,"Y":-1.45,"Z":-0.22},
        {"t":1222,"X":0.35,"Y":-0.25,"Z":0.6},{"t":1224,"X":-0.2,"Y":-1.55,"Z":-0.3},{"t":1226,"X":0.3,"Y":-0.3,"Z":1.12},{"t":1228,"X":-0.25,"Y":-1.62,"Z":-0.28},
        {"t":1230,"X":0.35,"Y":-0.2,"Z":0.55},{"t":1232,"X":-0.2,"Y":-1.45,"Z":-0.3},{"t":1234,"X":0.3,"Y":-0.3,"Z":1.47},{"t":1236,"X":-0.15,"Y":-1.5,"Z":-0.25},
        {"t":1238,"X":0.35,"Y":-0.25,"Z":0.6},{"t":1240,"X":-0.25,"Y":-1.4,"Z":-0.32},{"t":1242,"X":0.3,"Y":-0.35,"Z":1.63},{"t":1244,"X":-0.2,"Y":-1.55,"Z":-0.3},
        {"t":1246,"X":0.3,"Y":-0.2,"Z":0.55},{"t":1248,"X":-0.15,"Y":-1.45,"Z":-0.22},{"t":1250,"X":0.35,"Y":-0.3,"Z":1.08},{"t":1252,"X":-0.2,"Y":-1.4,"Z":-0.3},
        {"t":1254,"X":0.3,"Y":-0.25,"Z":0.5},{"t":1256,"X":-0.25,"Y":-1.5,"Z":-0.35},{"t":1258,"X":0.35,"Y":-0.35,"Z":0.55},{"t":1260,"X":-0.2,"Y":-1.45,"Z":-0.3},
        {"t":1262,"X":0.3,"Y":-0.2,"Z":1.23},{"t":1264,"X":-0.15,"Y":-1.38,"Z":-0.25},{"t":1266,"X":0.35,"Y":-0.3,"Z":1.18},{"t":1268,"X":-0.3,"Y":-1.5,"Z":-0.3},
        {"t":1270,"X":0.3,"Y":-0.25,"Z":0.5},{"t":1272,"X":-0.43,"Y":-1.3,"Z":-0.32},{"t":1274,"X":0.35,"Y":-0.3,"Z":0.6},{"t":1276,"X":-0.2,"Y":-1.2,"Z":-0.3},
        {"t":1278,"X":0.3,"Y":-0.2,"Z":1.44},{"t":1280,"X":-0.25,"Y":-1.35,"Z":-0.35},{"t":1282,"X":0.35,"Y":-0.3,"Z":0.55},{"t":1284,"X":-0.2,"Y":-1.55,"Z":-0.28},
        {"t":1286,"X":0.3,"Y":-0.25,"Z":1.24},{"t":1288,"X":-0.15,"Y":-1.3,"Z":-0.3},{"t":1290,"X":0.35,"Y":-0.3,"Z":0.6},{"t":1292,"X":-0.2,"Y":-1.4,"Z":-0.35},
        {"t":1294,"X":0.3,"Y":-0.25,"Z":1.05},{"t":1296,"X":-0.25,"Y":-1.35,"Z":-0.3},{"t":1298,"X":0.35,"Y":-0.35,"Z":0.55},{"t":1300,"X":-0.2,"Y":-1.45,"Z":-0.25},
        {"t":1302,"X":0.3,"Y":-0.2,"Z":0.6},{"t":1304,"X":-0.15,"Y":-1.55,"Z":-0.3},{"t":1306,"X":0.35,"Y":-0.3,"Z":0.86},{"t":1308,"X":-0.2,"Y":-1.4,"Z":-0.32},
        {"t":1310,"X":0.3,"Y":-0.25,"Z":1.24},{"t":1312,"X":-0.25,"Y":-1.45,"Z":-0.3},{"t":1314,"X":0.35,"Y":-0.3,"Z":0.6},{"t":1316,"X":-0.2,"Y":-1.5,"Z":-0.28},
        {"t":1318,"X":0.4,"Y":-0.35,"Z":1.07},{"t":1320,"X":-0.15,"Y":-1.3,"Z":-0.25},{"t":1322,"X":0.35,"Y":-0.5,"Z":1.07},{"t":1324,"X":-0.1,"Y":-1.35,"Z":-0.18},
        {"t":1326,"X":0.3,"Y":-0.55,"Z":0.65},{"t":1328,"X":-0.1,"Y":-1.25,"Z":-0.15},{"t":1330,"X":0.35,"Y":-0.6,"Z":0.67},{"t":1332,"X":-0.05,"Y":-1.2,"Z":-0.14},
        {"t":1334,"X":0.4,"Y":-0.65,"Z":0.65},{"t":1336,"X":-0.1,"Y":-1.3,"Z":-0.15},{"t":1338,"X":0.35,"Y":-0.6,"Z":0.86},{"t":1340,"X":-0.05,"Y":-1.25,"Z":-0.12},
        {"t":1342,"X":0.45,"Y":-0.7,"Z":0.7},{"t":1344,"X":-0.1,"Y":-1.2,"Z":-0.16},{"t":1346,"X":0.35,"Y":-0.62,"Z":0.65},{"t":1348,"X":-0.15,"Y":-1.3,"Z":-0.2},
        {"t":1350,"X":0.4,"Y":-0.5,"Z":1.11},{"t":1352,"X":-0.1,"Y":-1.25,"Z":-0.18},{"t":1354,"X":0.35,"Y":-0.45,"Z":0.6},{"t":1356,"X":-0.15,"Y":-1.35,"Z":-0.25},
        {"t":1358,"X":0.45,"Y":-0.3,"Z":1.1},{"t":1360,"X":-0.2,"Y":-1.45,"Z":-0.3},{"t":1362,"X":0.35,"Y":-0.25,"Z":0.55},{"t":1364,"X":-0.15,"Y":-1.54,"Z":-0.28},
        {"t":1366,"X":0.4,"Y":-0.35,"Z":0.94},{"t":1368,"X":-0.2,"Y":-1.4,"Z":-0.3},{"t":1370,"X":0.35,"Y":-0.3,"Z":1.07},{"t":1372,"X":-0.2,"Y":-1.5,"Z":-0.27},
        {"t":1374,"X":0.4,"Y":-0.35,"Z":1.19},{"t":1376,"X":-0.25,"Y":-1.35,"Z":-0.3},{"t":1378,"X":0.35,"Y":-0.45,"Z":0.6},{"t":1380,"X":-0.2,"Y":-1.3,"Z":-0.25},
        {"t":1382,"X":0.3,"Y":-0.6,"Z":0.62},{"t":1384,"X":-0.15,"Y":-1.25,"Z":-0.22},{"t":1386,"X":0.35,"Y":-0.65,"Z":0.6},{"t":1388,"X":-0.1,"Y":-1.35,"Z":-0.25},
        {"t":1390,"X":0.3,"Y":-0.7,"Z":0.62},{"t":1392,"X":-0.15,"Y":-1.3,"Z":-0.2},{"t":1394,"X":0.35,"Y":-0.62,"Z":0.6},{"t":1396,"X":-0.2,"Y":-1.4,"Z":-0.25},
        {"t":1398,"X":0.3,"Y":-0.6,"Z":0.7},{"t":1400,"X":-0.15,"Y":-1.3,"Z":-0.28},{"t":1402,"X":0.4,"Y":-0.5,"Z":1.06},{"t":1404,"X":-0.2,"Y":-1.45,"Z":-0.3},
        {"t":1406,"X":0.35,"Y":-0.4,"Z":1.02},{"t":1408,"X":-0.25,"Y":-1.35,"Z":-0.3},{"t":1410,"X":0.45,"Y":-0.3,"Z":0.9},{"t":1412,"X":-0.2,"Y":-1.53,"Z":-0.3},
        {"t":1414,"X":0.4,"Y":-0.25,"Z":1.19},{"t":1416,"X":-0.15,"Y":-1.2,"Z":-0.25},{"t":1418,"X":0.5,"Y":-0.2,"Z":0.95},{"t":1420,"X":-0.2,"Y":-1.3,"Z":-0.3},
        {"t":1422,"X":0.45,"Y":-0.3,"Z":1.17},{"t":1424,"X":-0.25,"Y":-1.15,"Z":-0.28},{"t":1426,"X":0.5,"Y":-0.25,"Z":1.0},{"t":1428,"X":-0.2,"Y":-1.35,"Z":-0.3},
        {"t":1430,"X":0.45,"Y":-0.2,"Z":1.29},{"t":1432,"X":-0.2,"Y":-1.25,"Z":-0.3},{"t":1434,"X":0.5,"Y":-0.3,"Z":1.05},{"t":1436,"X":-0.15,"Y":-1.3,"Z":-0.25},
        {"t":1438,"X":0.6,"Y":-0.25,"Z":0.95},{"t":1439,"Y":-1.4},{"t":1440,"X":-0.2,"Y":0.38,"Z":-0.3},{"t":1442,"X":0.45,"Y":-0.3,"Z":1.28},
        {"t":1444,"X":-0.2,"Y":-1.3,"Z":-0.25},{"t":1446,"X":0.5,"Y":-0.2,"Z":1.0},{"t":1448,"X":-0.15,"Y":-1.2,"Z":-0.3},{"t":1450,"X":0.45,"Y":-0.25,"Z":1.12},
        {"t":1452,"X":-0.2,"Y":-1.3,"Z":-0.25},{"t":1454,"X":0.4,"Y":-0.3,"Z":1.11},{"t":1456,"X":-0.1,"Y":-1.1,"Z":-0.2}
      ]},
      "transform": [
        {"fold": ["X", "Y", "Z"], "as": ["k", "g"]},
        {"filter": "isValid(datum.g)"}
      ],
      "mark": {"type": "line"},
      "encoding": {
        "x": {
          "field": "t", "type": "quantitative",
          "scale": {"domain": [0, 1500], "nice": false, "zero": false},
          "axis": {
            "values": [0, 500, 1000, 1500], "labelExpr": "'' + datum.value",
            "title": "Tempo [m]", "grid": false, "tickSize": -10, "labelPadding": 14,
            "labelFlush": false, "labelOverlap": false,
            "domainColor": "black", "tickColor": "black", "labelColor": "black", "titleColor": "black",
            "labelFont": "Liberation Sans", "labelFontSize": 13, "titleFont": "Liberation Sans", "titleFontSize": 13,
            "titleFontWeight": "normal", "titlePadding": 4
          }
        },
        "y": {
          "field": "g", "type": "quantitative",
          "scale": {"domain": [-2, 2], "nice": false, "zero": false},
          "axis": {
            "values": [-2, -1.5, -1, -0.5, 0, 0.5, 1, 1.5, 2], "labelExpr": "'' + datum.value",
            "title": "G", "grid": false, "tickSize": -10, "labelPadding": 16,
            "labelOverlap": false, "labelFlush": false,
            "domainColor": "black", "tickColor": "black", "labelColor": "black", "titleColor": "black",
            "labelFont": "Liberation Sans", "labelFontSize": 13, "titleFont": "Liberation Sans", "titleFontSize": 13,
            "titleFontWeight": "normal", "titlePadding": 10
          }
        },
        "strokeWidth": {
          "field": "k", "type": "nominal",
          "scale": {"domain": ["X", "Y", "Z"], "range": [1.3, 1.5, 1.8]},
          "legend": null
        },
        "color": {
          "field": "k", "type": "nominal",
          "scale": {"domain": ["X", "Y", "Z"], "range": ["#0000ff", "#ff0000", "#000000"]},
          "legend": {
            "orient": "none", "legendX": 54, "legendY": 23,
            "title": "x", "titleOrient": "right", "titlePadding": 10, "titleFontSize": 1, "titleColor": "white", "titleOpacity": 0,
            "labelExpr": "'Asse ' + datum.label",
            "strokeColor": "black", "fillColor": "white", "padding": 3,
            "symbolType": "stroke", "symbolSize": 625, "symbolStrokeWidth": 1, "symbolOffset": 3,
            "clipHeight": 14, "rowPadding": 3,
            "labelFont": "Liberation Sans", "labelFontSize": 13, "labelColor": "black",
            "labelOffset": 8
          }
        }
      }
    },
    {
      "data": {"values": [{"t": 66.3, "t2": 807.4, "g": -1.369}]},
      "mark": {"type": "rule", "color": "black", "strokeWidth": 2},
      "encoding": {
        "x": {"field": "t", "type": "quantitative"},
        "x2": {"field": "t2"},
        "y": {"field": "g", "type": "quantitative"}
      }
    },
    {
      "data": {"values": [{"t": 66.3, "g": -1.369, "dir": "sinistra"}, {"t": 807.4, "g": -1.369, "dir": "destra"}]},
      "mark": {"type": "point", "filled": true, "color": "black", "opacity": 1, "size": 400, "strokeWidth": 0},
      "encoding": {
        "x": {"field": "t", "type": "quantitative"},
        "y": {"field": "g", "type": "quantitative"},
        "shape": {
          "field": "dir", "type": "nominal",
          "scale": {"domain": ["sinistra", "destra"], "range": ["M0,0L2,-1.1L2,1.1Z", "M0,0L-2,-1.1L-2,1.1Z"]},
          "legend": null
        }
      }
    },
    {
      "data": {"values": [{"t": 436, "g": -1.69, "label": "Attività notturna"}]},
      "mark": {"type": "text", "font": "Liberation Serif", "fontSize": 31, "align": "center", "baseline": "alphabetic", "color": "black"},
      "encoding": {
        "x": {"field": "t", "type": "quantitative"},
        "y": {"field": "g", "type": "quantitative"},
        "text": {"field": "label"}
      }
    }
  ]
}
